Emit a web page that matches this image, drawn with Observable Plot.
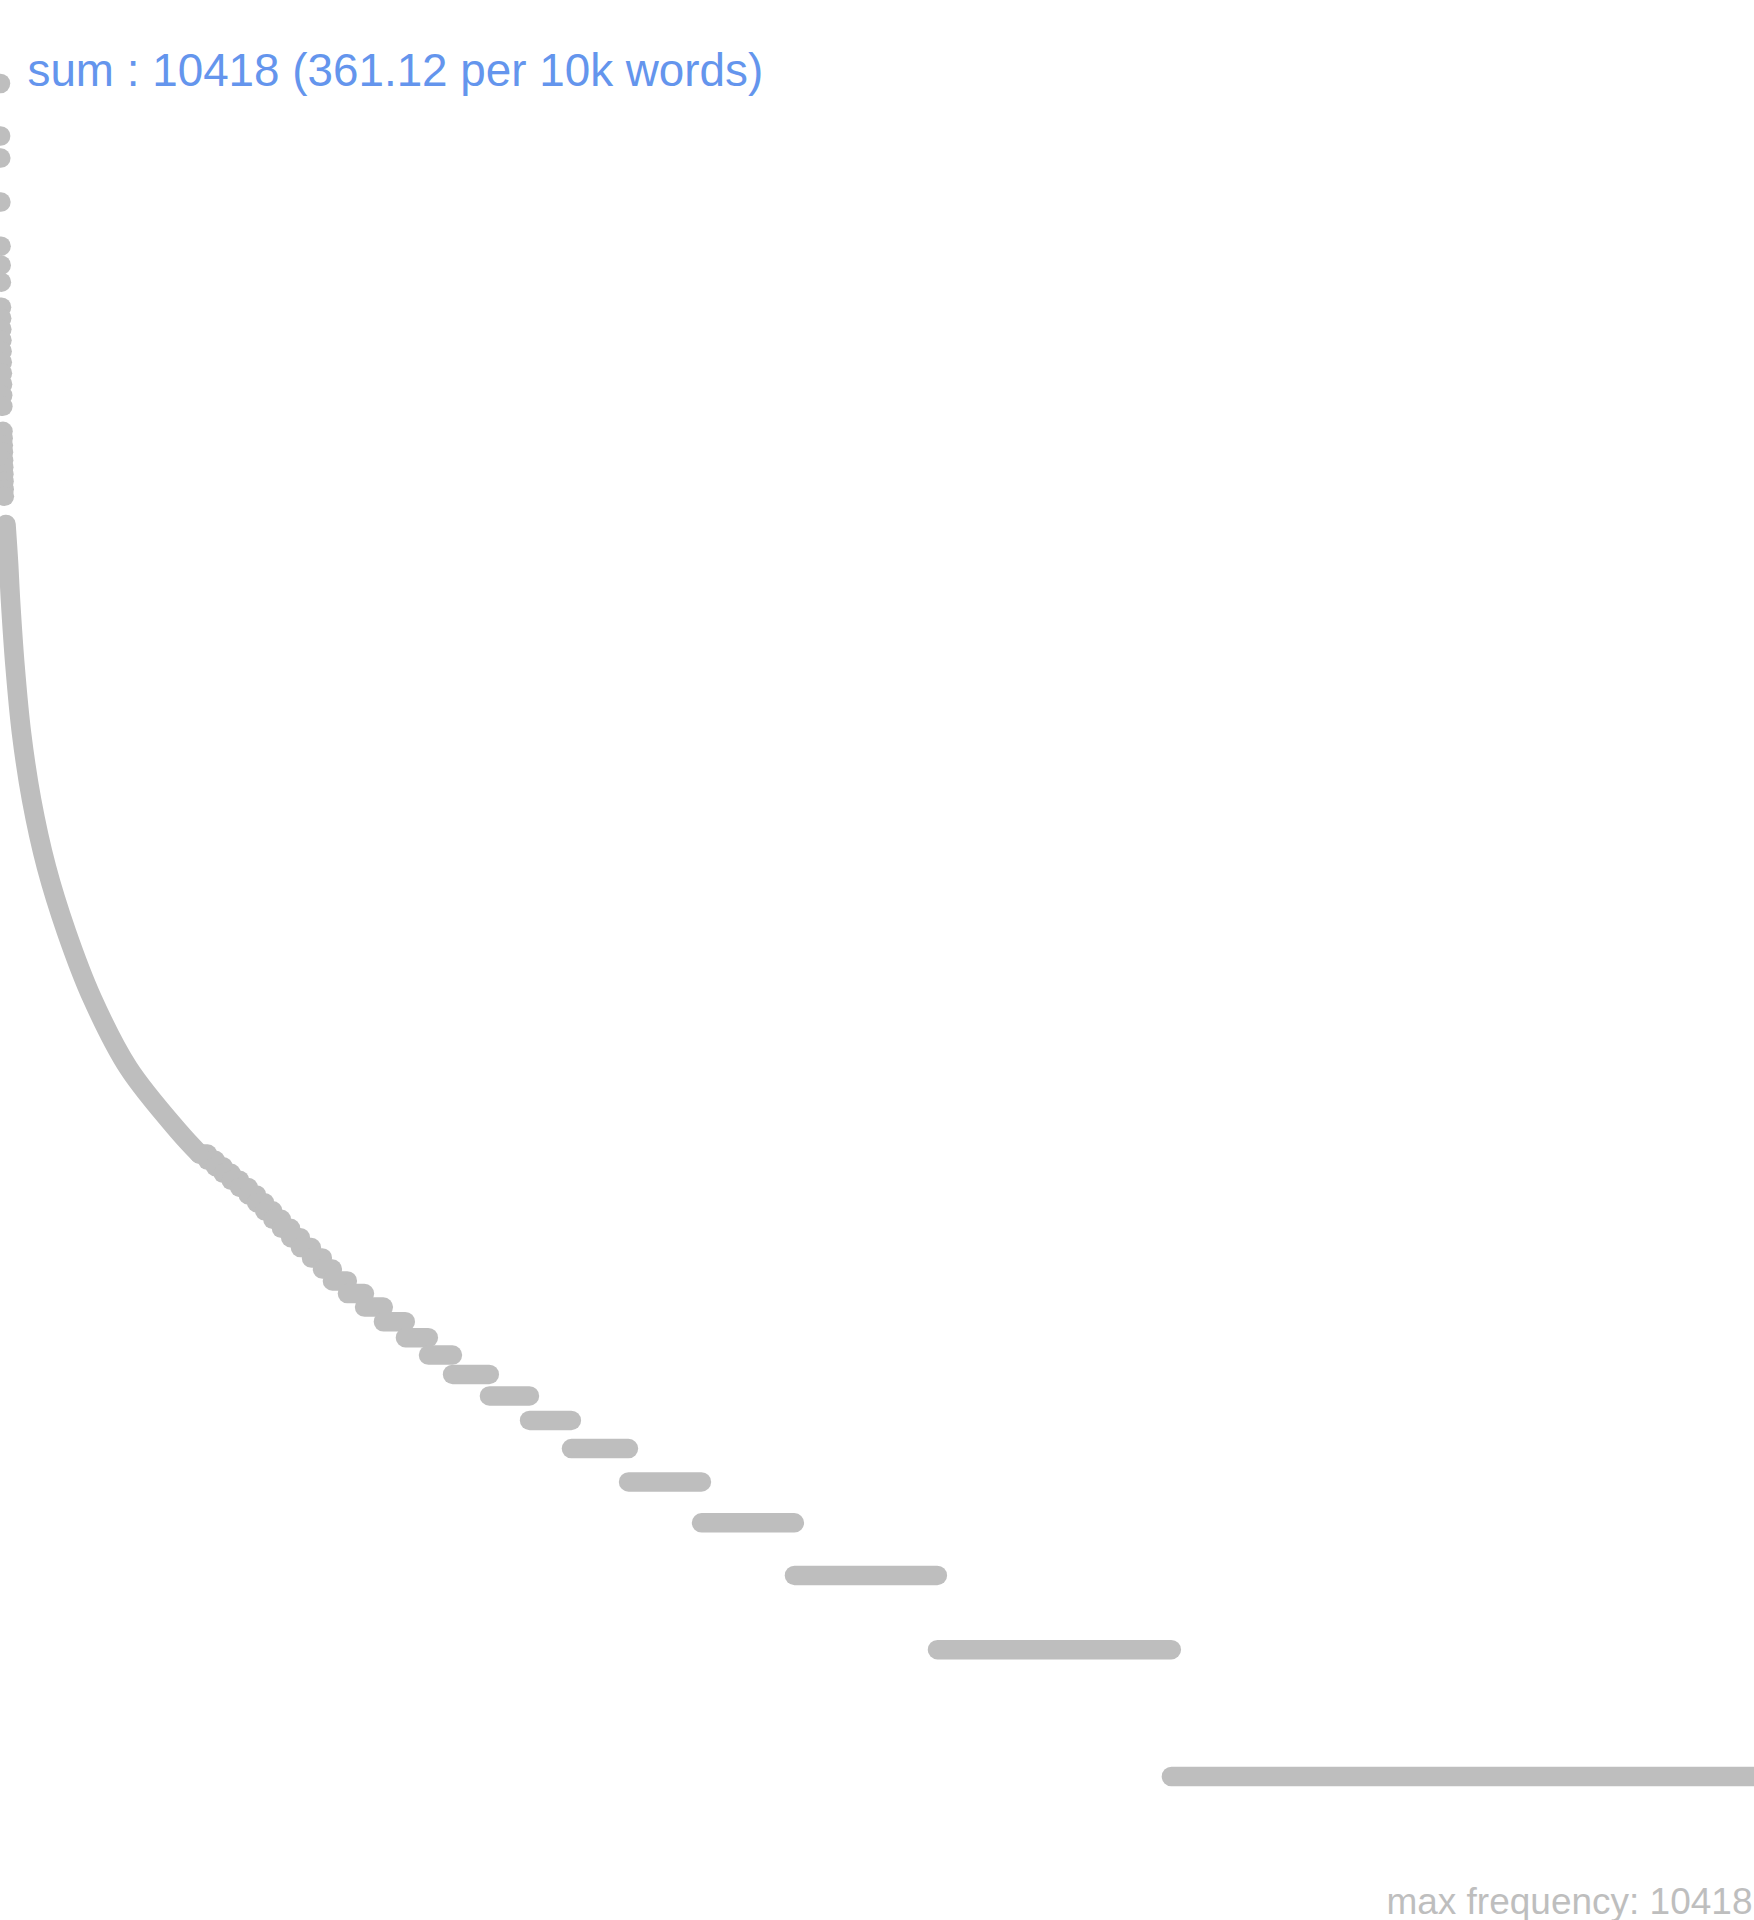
<!DOCTYPE html>
<html>
<head>
<meta charset="utf-8">
<script src="https://cdn.jsdelivr.net/npm/d3@7"></script>
<script src="https://cdn.jsdelivr.net/npm/@observablehq/plot@0.6"></script>
<style>
html, body { margin: 0; padding: 0; background: #fff; }
#chart svg { display: block; overflow: hidden; }
</style>
</head>
<body>
<div id="chart"></div>
<script>
// ---- data ----
const maxFrequency = 10418;
const sumLabel = "sum : 10418 (361.12 per 10k words)";
const captionLabel = "max frequency: 10418";
const totalTypes = 11800;

// most frequent items (ranks 1..27), individually visible dots
const topFreqs = [10418, 7819, 6932, 5450, 4283, 3861, 3518,
  3069, 2889, 2720, 2562, 2413, 2272, 2139, 2014, 1896, 1785,
  1557, 1499, 1443, 1388, 1329, 1279, 1231, 1185, 1134, 1092];

// continuous part of the rank/frequency curve (sampled readings)
const curveRanks = [38, 55, 68, 99, 142, 210, 310, 445, 620, 862, 1198, 1340];
const curveFreqs = [936, 761, 621, 431, 300, 208, 144, 101, 70, 48, 34, 30];

// low-frequency plateaus: number of items having each frequency
const stepFreqs  = [30, 29, 28, 27, 26, 25, 24, 23, 22, 21, 20, 19,
                    18, 17, 16, 15, 14, 13, 12, 11, 10, 9, 8, 7, 6, 5, 4, 3, 2, 1];
const stepCounts = [55, 52, 52, 54, 57, 58, 56, 54, 55, 58, 62, 66,
                    74, 74, 67, 101, 115, 127, 148, 155, 162, 248, 270, 282, 384, 491, 625, 962, 1574, 3923];
const firstStepRank = 1340;

// ---- tables ----
const topPoints = topFreqs.map((f, i) => ({rank: i + 1, freq: f}));
const curvePoints = curveRanks.map((r, i) => ({rank: r, freq: curveFreqs[i]}));
let cursor = firstStepRank;
const steps = stepFreqs.map((f, i) => {
  const s = {freq: f, first: cursor, last: cursor + stepCounts[i] - 1};
  cursor += stepCounts[i];
  return s;
});

const grey = "#bebebe";
const W = 1754, H = 1920;

const chart = Plot.plot({
  width: W, height: H,
  marginTop: 0, marginRight: 0, marginBottom: 0, marginLeft: 0,
  style: {fontFamily: "'Liberation Sans', Arial, Helvetica, sans-serif", background: "#ffffff"},
  x: {type: "linear", domain: [1, totalTypes], range: [0, W], axis: null},
  y: {type: "log", domain: [1, maxFrequency], range: [1776, 83], axis: null},
  marks: [
    Plot.link(steps, {x1: "first", x2: "last", y1: "freq", y2: "freq",
      stroke: grey, strokeWidth: 19.5, strokeLinecap: "round"}),
    Plot.line(curvePoints, {x: "rank", y: "freq", stroke: grey, strokeWidth: 19.5,
      strokeLinecap: "round", strokeLinejoin: "round", curve: "catmull-rom"}),
    Plot.dot(topPoints, {x: "rank", y: "freq", r: 9.75, fill: grey, stroke: null}),
    Plot.text([sumLabel], {frameAnchor: "top-left", dx: 27, dy: 85, text: d => d,
      textAnchor: "start", lineAnchor: "bottom", fontSize: 45.8, fill: "#6495ed"}),
    Plot.text([captionLabel], {frameAnchor: "bottom-right", dx: -2, dy: -7, text: d => d,
      textAnchor: "end", lineAnchor: "bottom", fontSize: 37, fill: grey})
  ]
});
document.getElementById("chart").appendChild(chart);
</script>
</body>
</html>
